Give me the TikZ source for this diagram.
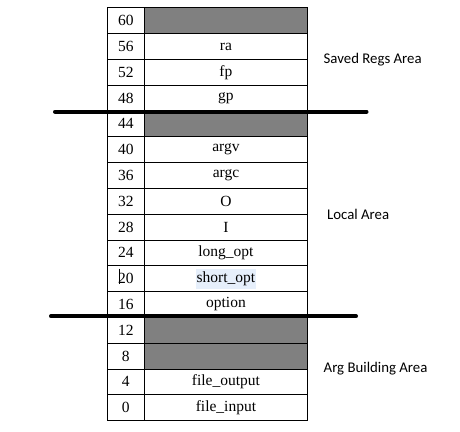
\documentclass[tikz,border=0pt]{standalone}
\usepackage{fontspec}
\setmainfont{Liberation Serif}
\newfontfamily\lblfont{Carlito}
\definecolor{shade}{HTML}{808080}
\definecolor{hlblue}{HTML}{E6EFFB}
\newcommand\hlbox[1]{{\setlength\fboxsep{1pt}\colorbox{hlblue}{\strut #1}}}
\begin{document}
\begin{tikzpicture}[x=1pt,y=-1pt,
  cellnum/.style={draw=black, line width=0.9pt, anchor=north west, minimum width=37.8pt, minimum height=25.8pt, inner sep=0pt, font=\fontsize{15.5}{18}\selectfont},
  cellval/.style={draw=black, line width=0.9pt, anchor=north west, minimum width=162.4pt, minimum height=25.8pt, inner sep=0pt, font=\fontsize{15.5}{18}\selectfont},
  grey/.style={fill=shade},
  divider/.style={line width=4pt, line cap=round},
  arealbl/.style={anchor=west, inner sep=0pt, font=\lblfont\fontsize{14.8}{17}\selectfont}
]
\useasboundingbox (0,0) rectangle (460,431);
\foreach \i/\n/\v/\g [count=\k] in {0/60//grey, 1/56/ra/, 2/52/fp/, 3/48/gp/, 4/44//grey, 5/40/argv/, 6/36/argc/, 7/32/O/, 8/28/I/, 9/24/long\_opt/, 10/20/\hlbox{short\_opt}/, 11/16/option/, 12/12//grey, 13/8//grey, 14/4/file\_output/, 15/0/file\_input/}{
  \node[cellnum] (n\k) at (106.5, 7.3+25.8*\i) {\n};
  \node[cellval,\g] (v\k) at (144.3, 7.3+25.8*\i) {\v};
}
% thick separators
\coordinate (s1a) at (55,111.7);
\coordinate (s1b) at (366.5,111.7);
\coordinate (s2a) at (51,316.3);
\coordinate (s2b) at (356,316.3);
\draw[divider] (s1a) -- (s1b);
\draw[divider] (s2a) -- (s2b);
% text cursor
\coordinate (c1) at (119.2,268.5);
\coordinate (c2) at (119.2,283.5);
\draw[line width=1.3pt] (c1) -- (c2);
% area labels
\node[arealbl] (saved) at (323.5,60) {Saved Regs Area};
\node[arealbl] (local) at (327,214) {Local Area};
\node[arealbl] (argb) at (323.5,369) {Arg Building Area};
\end{tikzpicture}
\end{document}
